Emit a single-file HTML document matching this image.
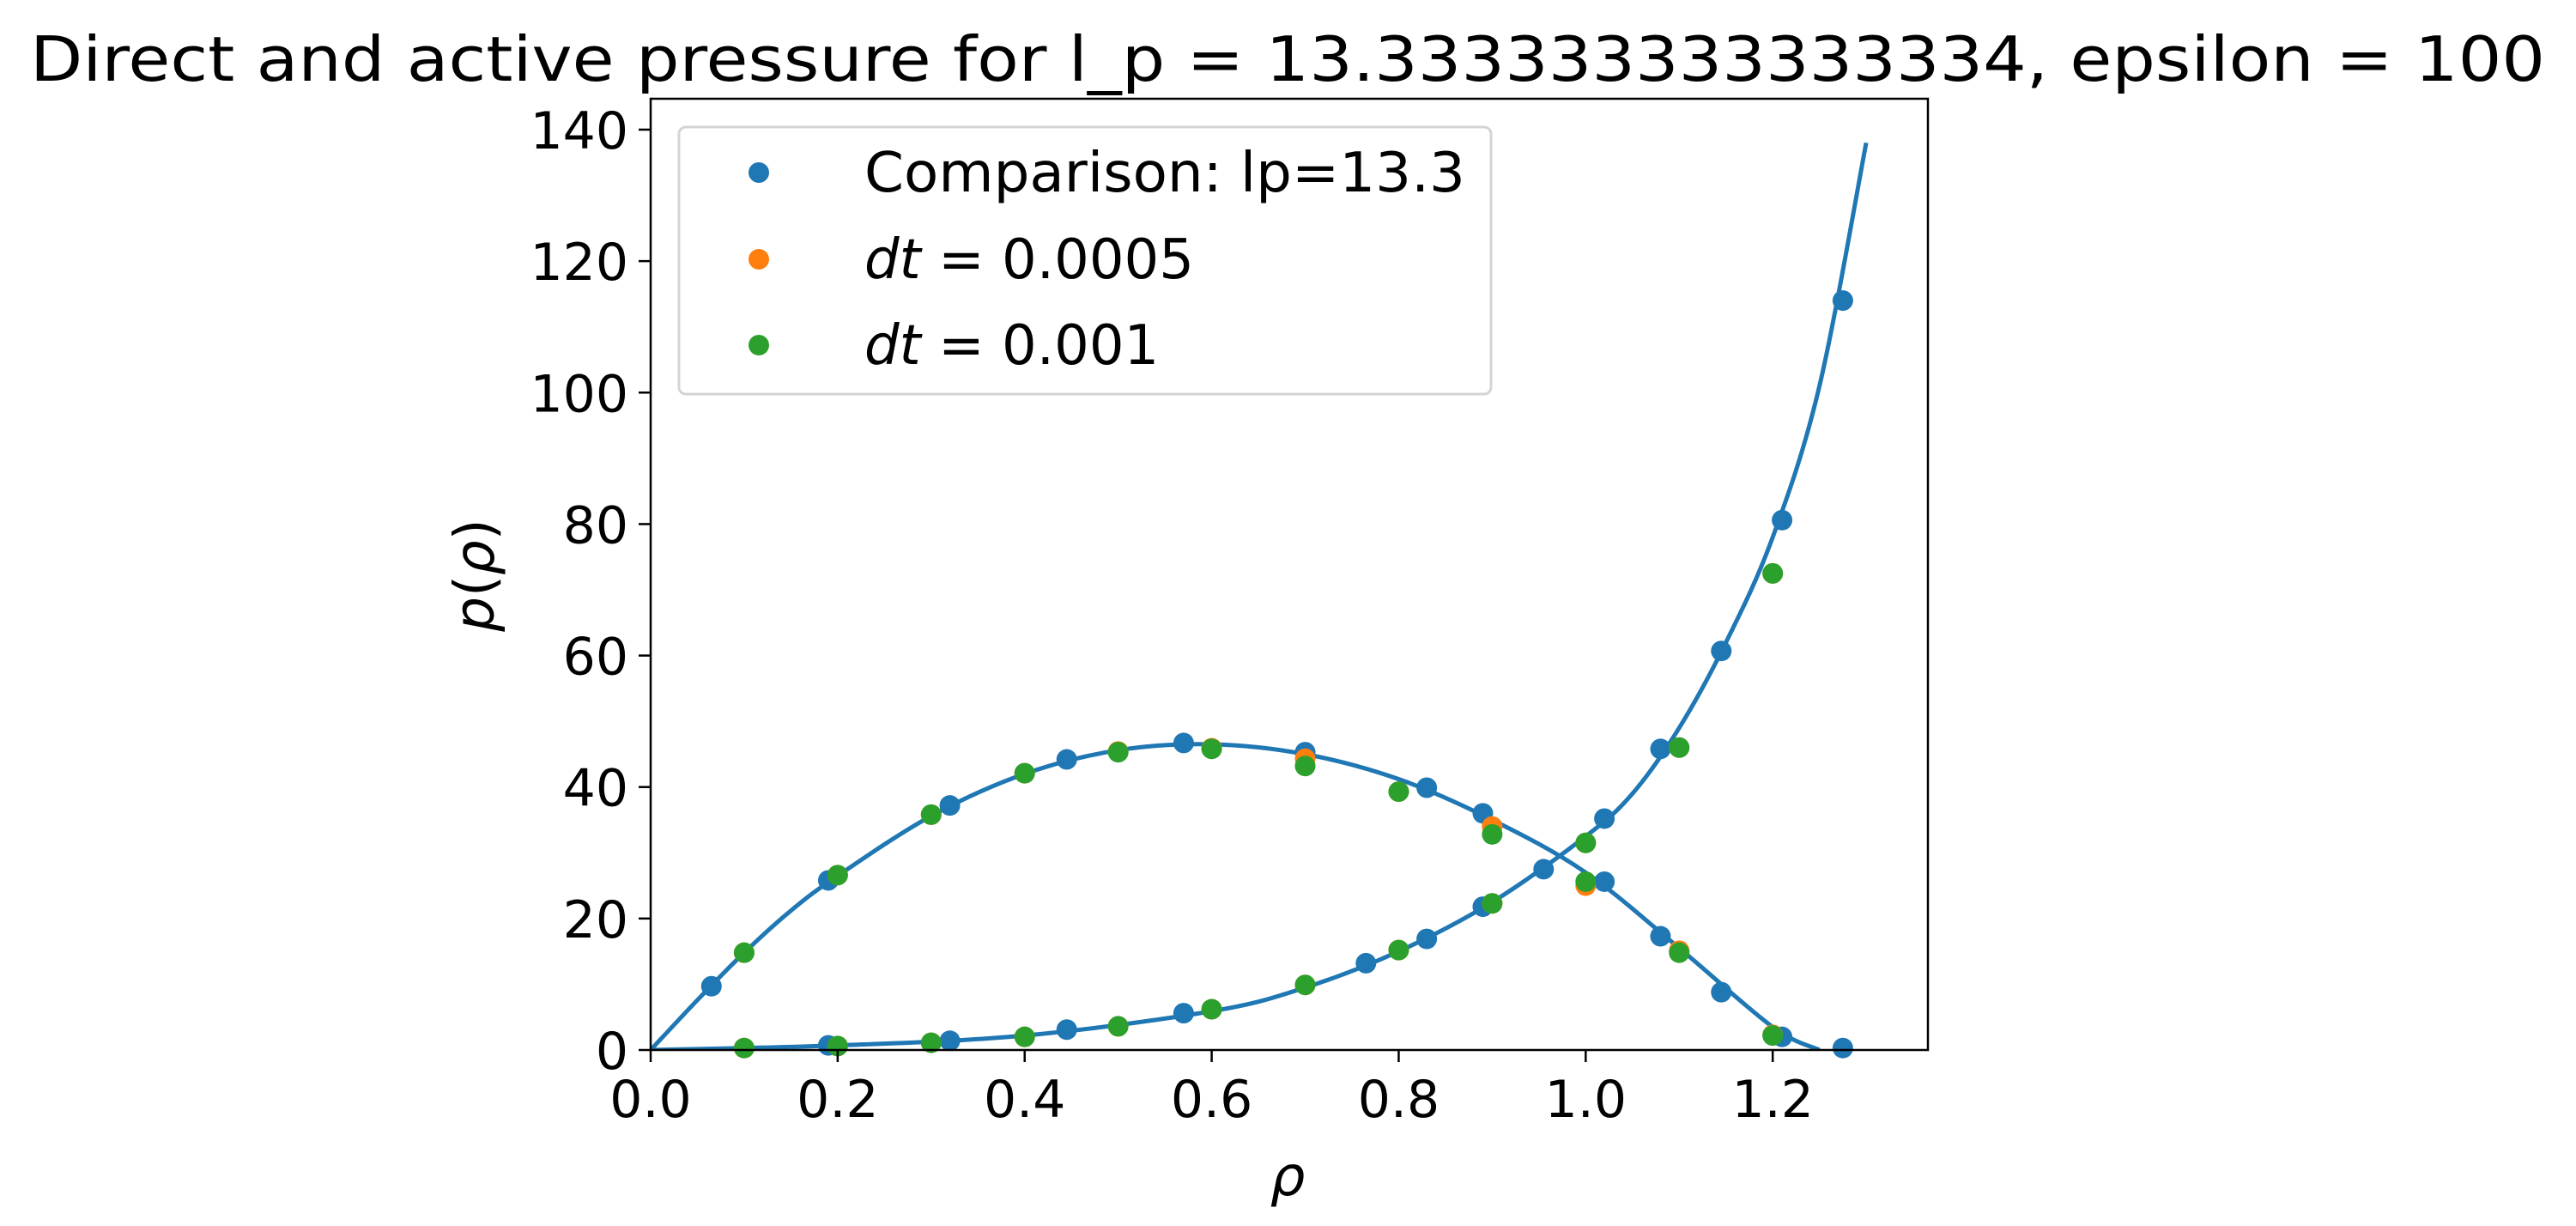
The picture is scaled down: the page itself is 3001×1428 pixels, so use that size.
<!DOCTYPE html>
<html><head><meta charset="utf-8"><style>
html,body{margin:0;padding:0;background:#fff}
svg{display:block;font-family:"DejaVu Sans","Liberation Sans",sans-serif}
</style></head><body>
<svg id="chart" width="3001" height="1428" viewBox="0 0 3001 1428" xmlns="http://www.w3.org/2000/svg">
<rect width="3001" height="1428" fill="#fff"/>
<text x="1500" y="94" font-size="72" text-anchor="middle" textLength="2930" lengthAdjust="spacingAndGlyphs">Direct and active pressure for l_p = 13.333333333333334, epsilon = 100</text>
<g id="plot"></g>
<text x="1500" y="1392" font-size="64" font-style="italic" text-anchor="middle">ρ</text>
<text transform="translate(575,670) rotate(-90)" font-size="64" text-anchor="middle"><tspan font-style="italic">p</tspan>(<tspan font-style="italic">ρ</tspan>)</text>
<g>
<rect x="791" y="148" width="946" height="311" rx="8" fill="#fff" stroke="#d4d4d4" stroke-width="3"/>
<circle cx="884" cy="201" r="12" fill="#1f77b4"/>
<text x="1007" y="223" font-size="64" textLength="700" lengthAdjust="spacingAndGlyphs">Comparison: lp=13.3</text>
<circle cx="884" cy="302" r="12" fill="#ff7f0e"/>
<text x="1007" y="324" font-size="64"><tspan font-style="italic">dt</tspan> = 0.0005</text>
<circle cx="884" cy="402" r="12" fill="#2ca02c"/>
<text x="1007" y="424" font-size="64"><tspan font-style="italic">dt</tspan> = 0.001</text>
</g>
</svg>
<script>
const xTicks = [0.0,0.2,0.4,0.6,0.8,1.0,1.2];
const xTickLabels = ["0.0","0.2","0.4","0.6","0.8","1.0","1.2"];
const yTicks = [0,20,40,60,80,100,120,140];
const yTickLabels = ["0","20","40","60","80","100","120","140"];
const humpLineX = [0,0.05,0.1,0.15,0.2,0.3,0.4,0.5,0.6,0.7,0.8,0.9,1.0,1.1,1.2,1.25];
const humpLineY = [0,7.6,14.8,21.2,26.5,35.6,42,45.6,46.5,45,41.2,35,27,15.5,3.5,0];
const riseLineX = [0,0.2,0.4,0.6,0.7,0.8,0.9,1.0,1.05,1.1,1.15,1.2,1.25,1.3];
const riseLineY = [0,0.7,2.2,5.9,9.5,15,22.5,32.5,39,49,62,78,101,138];
const compX = [0.065,0.19,0.32,0.445,0.57,0.70,0.83,0.89,1.02,1.08,1.145,1.21,1.275,0.19,0.32,0.445,0.57,0.765,0.83,0.89,0.955,1.02,1.08,1.145,1.21,1.275];
const compY = [9.7,25.8,37.2,44.2,46.7,45.3,39.9,36,25.6,17.3,8.8,2,0.3,0.7,1.4,3.1,5.6,13.2,16.9,21.8,27.5,35.2,45.8,60.7,80.6,114];
const simX = [0.1,0.2,0.3,0.4,0.5,0.6,0.7,0.8,0.9,1.0,1.1,1.2,0.1,0.2,0.3,0.4,0.5,0.6,0.7,0.8,0.9,1.0,1.1,1.2];
const dt0005Y = [14.8,26.6,35.8,42.1,45.4,45.9,44.3,39.3,34,25,15.1,2.3,0.3,0.6,1.1,2,3.6,6.2,9.9,15.2,22.3,31.5,46,72.5];
const dt001Y = [14.8,26.6,35.8,42.1,45.3,45.8,43.2,39.3,32.8,25.6,14.8,2.2,0.3,0.6,1.1,2,3.6,6.2,9.9,15.2,22.3,31.5,46,72.5];

const L=758,R=2246,T=115,B=1223,XMAX=1.366,YMAX=144.7;
const sx=v=>L+v/XMAX*(R-L);
const sy=v=>B-v/YMAX*(B-T);
const NS="http://www.w3.org/2000/svg";
const plot=document.getElementById('plot');
function mk(tag,attrs,parent){const e=document.createElementNS(NS,tag);for(const k in attrs)e.setAttribute(k,attrs[k]);(parent||plot).appendChild(e);return e;}
function spline(xs,ys){
  const p=xs.map((x,i)=>[sx(x),sy(ys[i])]);
  let d=`M${p[0][0]},${p[0][1]}`;
  for(let i=0;i<p.length-1;i++){
    const p0=p[Math.max(0,i-1)],p1=p[i],p2=p[i+1],p3=p[Math.min(p.length-1,i+2)];
    const c1=[p1[0]+(p2[0]-p0[0])/6,p1[1]+(p2[1]-p0[1])/6];
    const c2=[p2[0]-(p3[0]-p1[0])/6,p2[1]-(p3[1]-p1[1])/6];
    d+=` C${c1[0]},${c1[1]} ${c2[0]},${c2[1]} ${p2[0]},${p2[1]}`;
  }
  return d;
}
const clip=mk('clipPath',{id:'clp'});mk('rect',{x:L,y:T,width:R-L,height:B-T},clip);
let e;
e=mk('path',{d:spline(humpLineX,humpLineY),fill:'none',stroke:'#1f77b4','stroke-width':5,'clip-path':'url(#clp)'});


e=mk('path',{d:spline(riseLineX,riseLineY),fill:'none',stroke:'#1f77b4','stroke-width':5,'clip-path':'url(#clp)'});


compX.forEach((x,i)=>{e=mk('circle',{cx:sx(x),cy:sy(compY[i]),r:12,fill:'#1f77b4'});

});
simX.forEach((x,i)=>{e=mk('circle',{cx:sx(x),cy:sy(dt0005Y[i]),r:12,fill:'#ff7f0e'});

});
simX.forEach((x,i)=>{e=mk('circle',{cx:sx(x),cy:sy(dt001Y[i]),r:12,fill:'#2ca02c'});

});
e=mk('rect',{x:L,y:T,width:R-L,height:B-T,fill:'none',stroke:'#000','stroke-width':2.5});


xTicks.forEach((v,i)=>{
  e=mk('line',{x1:sx(v),x2:sx(v),y1:B,y2:B+14,stroke:'#000','stroke-width':2.5});
  
  
  e=mk('text',{x:sx(v),y:B+78,'font-size':60,'text-anchor':'middle'});e.textContent=xTickLabels[i];
  
  
});
yTicks.forEach((v,i)=>{
  e=mk('line',{x1:L-14,x2:L,y1:sy(v),y2:sy(v),stroke:'#000','stroke-width':2.5});
  
  
  e=mk('text',{x:L-26,y:sy(v)+22,'font-size':60,'text-anchor':'end'});e.textContent=yTickLabels[i];
  
  
});
</script>
</body></html>
